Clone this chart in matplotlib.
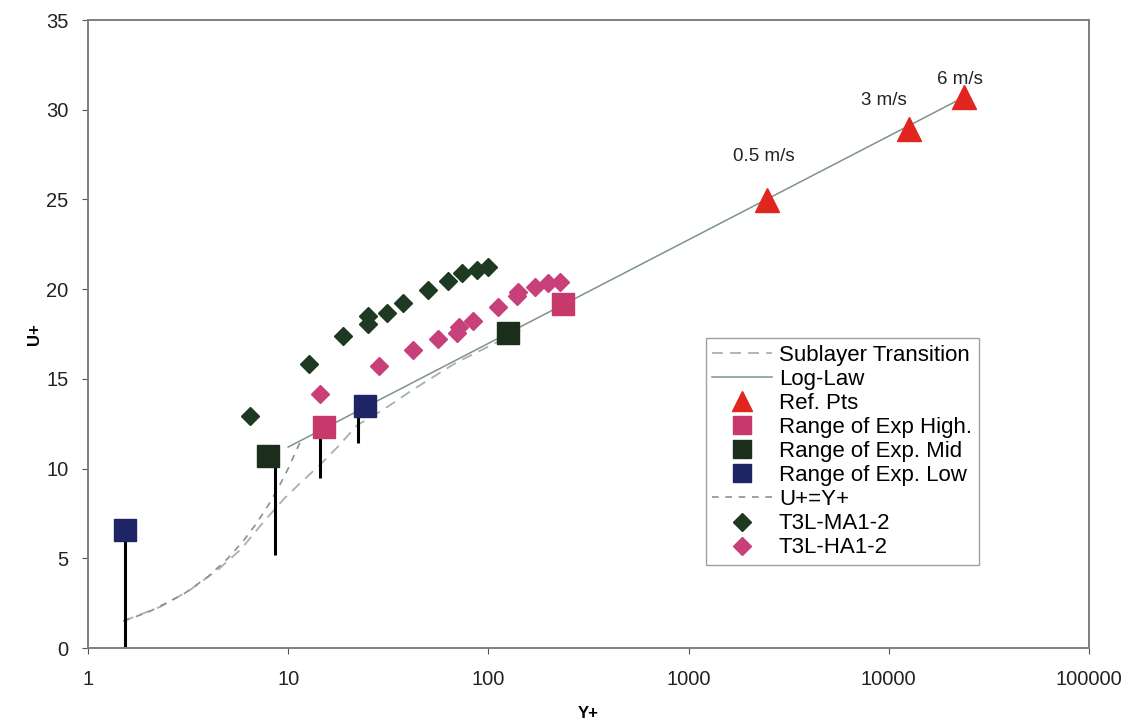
import numpy as np
import matplotlib
matplotlib.use('Agg')
import matplotlib.pyplot as plt

# values
sub_yp = [1.5, 2.3, 3.2, 4.5, 5.8, 7.5, 9.5, 11.5, 14.4, 18, 22, 30, 42, 69, 100, 150]
sub_up = [1.5, 2.3, 3.2, 4.4, 5.5, 7.0, 8.3, 9.2, 10.2, 11.3, 12.4, 13.3, 14.4, 15.9, 16.8, 17.8]

log_yp = [10, 23750]
log_up = [11.2, 30.7]

ref_yp = [2465, 12600, 23750]
ref_up = [24.97, 28.9, 30.7]
ref_labels = ['0.5 m/s', '3 m/s', '6 m/s']

high_yp = [15.1, 235]
high_up = [12.3, 19.2]
mid_yp = [7.9, 125]
mid_up = [10.7, 17.55]
low_yp = [1.53, 24.3]
low_up = [6.55, 13.5]

# vertical range lines (x, top, bottom)
rng_x = [1.53, 8.6, 14.5, 22.3]
rng_top = [6.5, 10.7, 12.3, 13.5]
rng_bot = [0.0, 5.2, 9.5, 11.4]

eq_yp = [1.5, 2, 3, 4, 5, 6, 7, 8, 9, 10, 11.5]
eq_up = [1.5, 2, 3, 4, 5, 6, 7, 8, 9, 10, 11.5]

ma_yp = [6.45, 12.7, 18.8, 25.0, 25.0, 31.2, 37.5, 50, 63, 74, 88, 99.5]
ma_up = [12.93, 15.83, 17.39, 18.5, 18.06, 18.67, 19.23, 19.96, 20.46, 20.9, 21.07, 21.24]

ha_yp = [14.4, 28.4, 42, 56, 69.7, 71.3, 83.8, 112, 139, 141, 171, 199, 228]
ha_up = [14.16, 15.72, 16.61, 17.22, 17.56, 17.89, 18.23, 19.0, 19.6, 19.85, 20.12, 20.35, 20.4]

plt.rcParams['font.family'] = ['Liberation Sans', 'DejaVu Sans']

fig = plt.figure(figsize=(11.31, 7.25), dpi=100)
ax = fig.add_axes([0.0778, 0.1062, 0.885, 0.8662])

ax.vlines(rng_x, rng_bot, rng_top, color='black', lw=2.2, zorder=2)

ax.plot(sub_yp, sub_up, color='#a9b0b0', lw=1.3, dashes=(6, 4), label='Sublayer Transition', zorder=1)
ax.plot(log_yp, log_up, color='#7f938c', lw=1.1, label='Log-Law', zorder=1)
ax.plot(ref_yp, ref_up, '^', color='#e0261f', ms=17, ls='none', label='Ref. Pts', zorder=3)
ax.plot(high_yp, high_up, 's', color='#c8386a', ms=16, ls='none', label='Range of Exp High.', zorder=3)
ax.plot(mid_yp, mid_up, 's', color='#1b2e1c', ms=16, ls='none', label='Range of Exp. Mid', zorder=3)
ax.plot(low_yp, low_up, 's', color='#1e2466', ms=16, ls='none', label='Range of Exp. Low', zorder=3)
ax.plot(eq_yp, eq_up, color='#8a9090', lw=1.2, dashes=(4, 4), label='U+=Y+', zorder=1)
ax.plot(ma_yp, ma_up, 'D', color='#1f3a22', ms=9, ls='none', label='T3L-MA1-2', zorder=3)
ax.plot(ha_yp, ha_up, 'D', color='#c8407a', ms=9, ls='none', label='T3L-HA1-2', zorder=3)

offsets = [(-2, 31), (-18, 21), (-3, 13)]
for x, y, lab, off in zip(ref_yp, ref_up, ref_labels, offsets):
    ax.annotate(lab, (x, y), xytext=off, textcoords='offset points',
                ha='center', va='center', fontsize=13.5, color='#222222')

ax.set_xscale('log')
ax.set_xlim(1, 100000)
ax.set_ylim(0, 35)
ax.set_yticks(range(0, 36, 5))
ax.set_xticks([1, 10, 100, 1000, 10000, 100000])
ax.set_xticklabels(['1', '10', '100', '1000', '10000', '100000'])
ax.minorticks_off()
ax.tick_params(axis='both', labelsize=14.5, colors='#555555', labelcolor='#222222', length=4, direction='out')
ax.tick_params(axis='x', pad=12)
ax.tick_params(axis='y', pad=10)
for s in ax.spines.values():
    s.set_color('#7a7f7f')
    s.set_linewidth(1.4)

ax.set_xlabel('Y+', fontsize=12, fontweight='bold')
ax.set_ylabel('U+', fontsize=12, fontweight='bold')
ax.xaxis.set_label_coords(0.5, -0.092)
ax.yaxis.set_label_coords(-0.046, 0.5)

leg = ax.legend(loc='lower left', bbox_to_anchor=(0.617, 0.132), fontsize=16, frameon=True,
                fancybox=False, edgecolor='#888888', handlelength=2.7, labelspacing=0.14,
                borderpad=0.3, handletextpad=0.3, borderaxespad=0)
leg.get_frame().set_linewidth(1.0)
for h, ms in zip(leg.legend_handles, [0, 0, 14, 13, 13, 13, 0, 9, 9]):
    if ms:
        h.set_markersize(ms)

fig.savefig('out.png', dpi=100)
